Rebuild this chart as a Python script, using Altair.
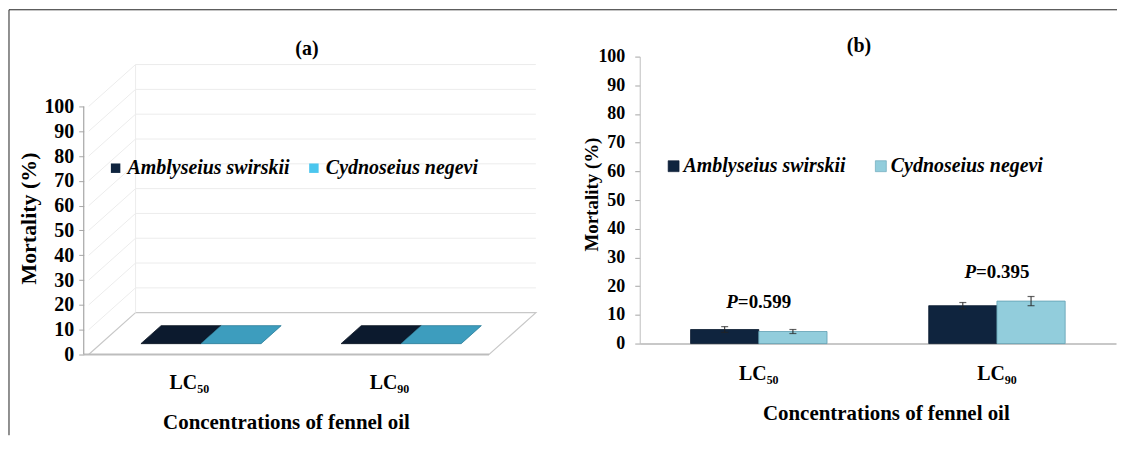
import altair as alt
import pandas as pd

# ---------------- data ----------------
categories = ["LC₅₀", "LC₉₀"]
species = ["Amblyseius swirskii", "Cydnoseius negevi"]

# panel (a): mortality (%)
mort_a_swirskii = [0.0, 0.0]
mort_a_negevi = [0.0, 0.0]

# panel (b): mortality (%) and error
mort_b_swirskii = [4.9, 13.2]
mort_b_negevi = [4.2, 14.8]
err_b_swirskii = [1.0, 1.1]
err_b_negevi = [0.7, 1.6]
p_values = ["=0.599", "=0.395"]

y_ticks = list(range(0, 101, 10))
panel_titles = ["(a)", "(b)"]

# ---------------- style ----------------
FONT = "Liberation Serif"
DARK = "#0f243e"
LIGHT_B = "#92cddc"
LEG_LIGHT_A = "#4bc6ee"
FACE_FILL_A = {species[0]: "#0c1a2e", species[1]: "#3d9dbe"}
FACE_STROKE_A = {species[0]: "#08111f", species[1]: "#2b7d99"}

DX, DY = 0.234, 16.87
D0, D1 = 0.26, 0.69
HALF = 0.3
n = len(categories)
cat_pos = [i + 0.5 for i in range(n)]

WA, HA = 457, 299
XDOM_A = [-0.025, 2.25]
YDOM_A = [0, 120.08]
xa = alt.Scale(domain=XDOM_A, nice=False, zero=False)
ya = alt.Scale(domain=YDOM_A, nice=False, zero=False)

# ---------------- panel (a) ----------------
floor_df = pd.DataFrame({"y": [0, DY], "x": [0, DX], "x2": [n, n + DX]})
floor = alt.Chart(floor_df).mark_area(
    orient="horizontal", fill="white", stroke="#c8c8c8", strokeWidth=1.2
).encode(
    y=alt.Y("y:Q", scale=ya, axis=alt.Axis(
        values=y_ticks, tickCount=len(y_ticks), domain=False, grid=False, tickSize=5,
        tickColor="#a6a6a6", labelOverlap=False,
        labelFont=FONT, labelFontSize=20, labelFontWeight="bold", labelColor="black",
        labelPadding=5, title="Mortality (%)", titleFont=FONT, titleFontSize=22,
        titleFontWeight="bold", titleColor="black", titleX=-55, titleY=162,
        titleAngle=270, titleAlign="center", titleBaseline="middle")),
    x=alt.X("x:Q", scale=xa, stack=None, axis=alt.Axis(
        values=cat_pos, tickCount=len(cat_pos),
        labelExpr=f"datum.value < 1 ? '{categories[0]}' : '{categories[1]}'",
        domain=False, ticks=False, grid=False, labelFlush=False, labelOverlap=False,
        labelFont=FONT, labelFontSize=20, labelFontWeight="bold", labelColor="black",
        labelPadding=18, title="Concentrations of fennel oil", titleFont=FONT,
        titleFontSize=21, titleFontWeight="bold", titleColor="black",
        titleX=203, titleY=68, titleAlign="center", titleBaseline="middle")),
    x2="x2:Q",
)

back_df = pd.DataFrame({"v": y_ticks[1:]})
back_df["y"] = back_df["v"] + DY
back_df["x"] = DX
back_df["x2"] = n + DX
back_grid = alt.Chart(back_df).mark_rule(color="#ececec", strokeWidth=1).encode(
    x=alt.X("x:Q", scale=xa), x2="x2:Q",
    y=alt.Y("y:Q", scale=ya))

side_df = pd.DataFrame({"v": y_ticks[1:]})
side_df["y"] = side_df["v"]
side_df["y2"] = side_df["v"] + DY
side_df["x"] = 0.0
side_df["x2"] = DX
side_grid = alt.Chart(side_df).mark_rule(color="#ececec", strokeWidth=1).encode(
    x=alt.X("x:Q", scale=xa), x2="x2:Q",
    y=alt.Y("y:Q", scale=ya), y2="y2:Q")

wall_df = pd.DataFrame({"x": [DX], "y": [DY], "y2": [100 + DY]})
wall_edge = alt.Chart(wall_df).mark_rule(color="#ececec", strokeWidth=1).encode(
    x=alt.X("x:Q", scale=xa),
    y=alt.Y("y:Q", scale=ya), y2="y2:Q")

yaxis_df = pd.DataFrame({"x": [XDOM_A[0]], "y": [0], "y2": [100]})
yaxis_line = alt.Chart(yaxis_df).mark_rule(color="#a6a6a6", strokeWidth=1.2).encode(
    x=alt.X("x:Q", scale=xa),
    y=alt.Y("y:Q", scale=ya), y2="y2:Q")

front_df = pd.DataFrame({"x": [XDOM_A[0]], "x2": [n], "y": [0]})
front_edge = alt.Chart(front_df).mark_rule(color="#bdbdbd", strokeWidth=2).encode(
    x=alt.X("x:Q", scale=xa), x2="x2:Q",
    y=alt.Y("y:Q", scale=ya))

rows = []
for i, c in enumerate(cat_pos):
    for name, vals, o0, o1 in [(species[0], mort_a_swirskii, -HALF, 0.0),
                               (species[1], mort_a_negevi, 0.0, HALF)]:
        for d in (D0, D1):
            rows.append({"cat": categories[i], "series": name,
                         "y": vals[i] + d * DY,
                         "x": c + o0 + d * DX, "x2": c + o1 + d * DX,
                         "fillc": FACE_FILL_A[name], "strokec": FACE_STROKE_A[name]})
face_df = pd.DataFrame(rows)

faces = alt.Chart(face_df).mark_area(orient="horizontal", strokeWidth=0.8).encode(
    y=alt.Y("y:Q", scale=ya),
    x=alt.X("x:Q", scale=xa, stack=None), x2="x2:Q",
    fill=alt.Fill("fillc:N", scale=None),
    stroke=alt.Stroke("strokec:N", scale=None),
    detail=["cat:N", "series:N"],
)

legend_a = alt.Chart(face_df).mark_point(shape="square", filled=True, opacity=0).encode(
    x=alt.X("x:Q", scale=xa),
    y=alt.Y("y:Q", scale=ya),
    color=alt.Color("series:N", scale=alt.Scale(domain=species, range=[DARK, LEG_LIGHT_A]),
                    legend=alt.Legend(orient="none", direction="horizontal", legendX=22, legendY=102,
                                      title=None, symbolType="square", symbolSize=90, symbolOpacity=1,
                                      symbolStrokeWidth=0, padding=0, labelLimit=0,
                                      labelFont=FONT, labelFontSize=20, labelFontStyle="italic",
                                      labelFontWeight="bold", labelColor="black",
                                      labelOffset=2, columnPadding=14)),
)

frame_df = pd.DataFrame({"k": [0]})
frame_left = alt.Chart(frame_df).mark_rule(color="#222222", strokeWidth=1).encode(
    x=alt.value(-75), y=alt.value(-47), y2=alt.value(380))
frame_top = alt.Chart(frame_df).mark_rule(color="#222222", strokeWidth=1).encode(
    x=alt.value(-75), x2=alt.value(1037), y=alt.value(-47))

title_a = alt.Chart(frame_df).mark_text(
    text=panel_titles[0], font=FONT, fontSize=20, fontWeight="bold", color="black",
    align="center", baseline="middle"
).encode(x=alt.value(224), y=alt.value(-8))

chart_a = alt.layer(
    floor, back_grid, side_grid, wall_edge, front_edge, yaxis_line, faces, legend_a,
    frame_left, frame_top, title_a,
).properties(width=WA, height=HA)

# ---------------- panel (b) ----------------
brows = []
for i, cat in enumerate(categories):
    for name, vals, errs in [(species[0], mort_b_swirskii, err_b_swirskii),
                             (species[1], mort_b_negevi, err_b_negevi)]:
        brows.append({"cat": cat, "series": name, "value": vals[i], "err": errs[i],
                      "lo": vals[i] - errs[i], "hi": vals[i] + errs[i]})
bar_df = pd.DataFrame(brows)

p_df = pd.DataFrame({"cat": categories, "ptext": p_values})
p_df["ymax"] = [max(mort_b_swirskii[i] + err_b_swirskii[i], mort_b_negevi[i] + err_b_negevi[i])
                for i in range(n)]

xb_scale = alt.Scale(domain=categories, paddingInner=0.427, paddingOuter=0.2135)
xo_scale = alt.Scale(domain=species, paddingInner=0, paddingOuter=0)
yb_scale = alt.Scale(domain=[0, 100], nice=False)

bars = alt.Chart(bar_df).mark_bar(strokeWidth=0.8).encode(
    x=alt.X("cat:N", scale=xb_scale, axis=alt.Axis(
        domainColor="#c8c8c8", domainWidth=2, ticks=False, grid=False, labelAngle=0,
        labelOverlap=False,
        labelFont=FONT, labelFontSize=20, labelFontWeight="bold", labelColor="black",
        labelPadding=20, title="Concentrations of fennel oil", titleFont=FONT,
        titleFontSize=21, titleFontWeight="bold", titleColor="black",
        titleX=247, titleY=70, titleAlign="center", titleBaseline="middle")),
    xOffset=alt.XOffset("series:N", scale=xo_scale),
    y=alt.Y("value:Q", scale=yb_scale, stack=None, axis=alt.Axis(
        values=y_ticks, tickCount=len(y_ticks), domainColor="#bfbfbf", domainWidth=1,
        grid=False, tickSize=5, tickColor="#a6a6a6", labelOverlap=False,
        labelFont=FONT, labelFontSize=18, labelFontWeight="bold", labelColor="black",
        labelPadding=10, title="Mortality (%)", titleFont=FONT, titleFontSize=19,
        titleFontWeight="bold", titleColor="black", titleX=-48, titleY=138,
        titleAngle=270, titleAlign="center", titleBaseline="middle")),
    color=alt.Color("series:N", scale=alt.Scale(domain=species, range=[DARK, LIGHT_B]),
                    legend=alt.Legend(orient="none", direction="horizontal", legendX=24, legendY=100,
                                      title=None, symbolType="square", symbolSize=121,
                                      symbolStrokeColor="#5f8fa0", symbolStrokeWidth=0.6, padding=0,
                                      labelLimit=0,
                                      labelFont=FONT, labelFontSize=20, labelFontStyle="italic",
                                      labelFontWeight="bold", labelColor="black",
                                      labelOffset=0, columnPadding=25)),
    stroke=alt.Stroke("series:N", scale=alt.Scale(domain=species, range=["#0a1a30", "#5f9fb3"]), legend=None),
)

err_rule = alt.Chart(bar_df).mark_rule(color="#222222", strokeWidth=1).encode(
    x=alt.X("cat:N", scale=xb_scale),
    xOffset=alt.XOffset("series:N", scale=xo_scale),
    y=alt.Y("lo:Q", scale=yb_scale), y2="hi:Q")

err_caps = alt.Chart(bar_df).transform_fold(["lo", "hi"], as_=["end", "yv"]).mark_tick(
    orient="horizontal", size=7, thickness=1.2, color="#222222"
).encode(
    x=alt.X("cat:N", scale=xb_scale),
    xOffset=alt.XOffset("series:N", scale=xo_scale),
    y=alt.Y("yv:Q", scale=yb_scale))

p_italic = alt.Chart(p_df).mark_text(
    text="P", align="right", baseline="middle", dx=-21, dy=-25,
    font=FONT, fontSize=19, fontStyle="italic", fontWeight="bold", color="black"
).encode(x=alt.X("cat:N", scale=xb_scale),
         y=alt.Y("ymax:Q", scale=yb_scale))

p_rest = alt.Chart(p_df).mark_text(
    align="left", baseline="middle", dx=-21, dy=-25,
    font=FONT, fontSize=19, fontWeight="bold", color="black"
).encode(x=alt.X("cat:N", scale=xb_scale),
         y=alt.Y("ymax:Q", scale=yb_scale),
         text="ptext:N")

title_b = alt.Chart(frame_df).mark_text(
    text=panel_titles[1], font=FONT, fontSize=20, fontWeight="bold", color="black",
    align="center", baseline="middle"
).encode(x=alt.value(220), y=alt.value(-11))

chart_b = alt.layer(bars, err_rule, err_caps, p_italic, p_rest, title_b).properties(
    width=478, height=288)

chart = alt.hconcat(chart_a, chart_b, spacing=101, bounds="flush").resolve_scale(
    color="independent", stroke="independent"
).resolve_legend(color="independent").properties(
    padding=0, background="white"
).configure(font=FONT).configure_view(stroke=None)

chart.save("out.html", embed_options={"renderer": "svg", "actions": False})
